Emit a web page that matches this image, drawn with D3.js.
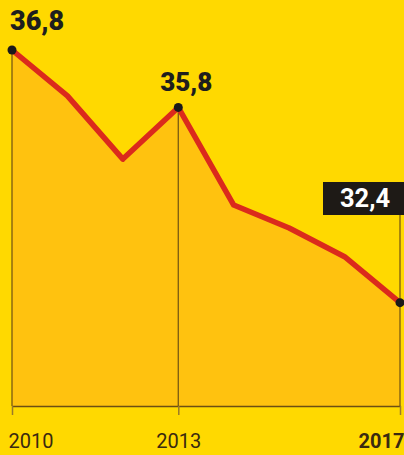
<!DOCTYPE html>
<html>
<head>
<meta charset="utf-8">
<script src="https://cdn.jsdelivr.net/npm/d3@7/dist/d3.min.js"></script>
<style>
  html, body { margin: 0; padding: 0; background: #FFD900; }
  svg { display: block; }
</style>
</head>
<body>
<svg id="chart" width="404" height="455"></svg>
<script>
const years = [2010, 2011, 2012, 2013, 2014, 2015, 2016, 2017];
const values = [36.8, 36.0, 34.9, 35.8, 34.1, 33.7, 33.2, 32.4];
const tickYears = [2010, 2013, 2017];
const labelled = [
  { year: 2010, value: 36.8, text: "36,8" },
  { year: 2013, value: 35.8, text: "35,8" },
  { year: 2017, value: 32.4, text: "32,4" }
];

const data = years.map((y, i) => ({ year: y, value: values[i] }));

const W = 404, H = 455;
const svg = d3.select("#chart");
svg.append("rect").attr("width", W).attr("height", H).attr("fill", "#FFD900");

const x = d3.scaleLinear().domain([2010, 2017]).range([12, 400]);
const y = d3.scaleLinear().domain([30.6, 36.8]).range([406, 50]);
const baseY = y(30.6);

// area
const area = d3.area().x(d => x(d.year)).y0(baseY).y1(d => y(d.value));
svg.append("path").datum(data).attr("d", area).attr("fill", "#FFC20F");

// vertical guide lines
const lineColor = "#7A5A12";
svg.append("line").attr("x1", x(2010)).attr("x2", x(2010))
  .attr("y1", y(36.8)).attr("y2", baseY).attr("stroke", lineColor).attr("stroke-width", 1.3);
svg.append("line").attr("x1", x(2013)).attr("x2", x(2013))
  .attr("y1", y(35.8)).attr("y2", baseY).attr("stroke", lineColor).attr("stroke-width", 1.3);
svg.append("line").attr("x1", x(2017)).attr("x2", x(2017))
  .attr("y1", 214).attr("y2", baseY).attr("stroke", lineColor).attr("stroke-width", 1.3);

// axis
const axis = d3.axisBottom(x).tickValues(tickYears).tickSize(9).tickSizeOuter(0).tickFormat(d3.format("d")).tickPadding(19);
const gAxis = svg.append("g").attr("transform", `translate(0,${baseY})`).call(axis);
gAxis.select(".domain").attr("stroke", "#6B4E14").attr("stroke-width", 1.5);
gAxis.selectAll(".tick line").attr("stroke", "#9A7A2A").attr("stroke-width", 1.5);
gAxis.selectAll(".tick text")
  .attr("font-family", "Roboto, sans-serif")
  .attr("font-size", 20)
  .attr("fill", "#3A2A10")
  .attr("text-anchor", d => d === 2010 ? "start" : d === 2017 ? "end" : "middle")
  .attr("dx", d => d === 2010 ? -4 : d === 2017 ? 4 : 0)
  .attr("font-weight", d => d === 2017 ? 700 : 400);

// red line
const line = d3.line().x(d => x(d.year)).y(d => y(d.value));
svg.append("path").datum(data).attr("d", line)
  .attr("fill", "none").attr("stroke", "#DB2A1C").attr("stroke-width", 5.5)
  .attr("stroke-linejoin", "round").attr("stroke-linecap", "round");

// dots
svg.selectAll("circle.dot").data(labelled).enter().append("circle")
  .attr("class", "dot")
  .attr("cx", d => x(d.year)).attr("cy", d => y(d.value)).attr("r", 4.5)
  .attr("fill", "#1A1A1A");

// labels
svg.append("text").attr("x", 10).attr("y", y(36.8) - 20)
  .attr("font-family", "Roboto, sans-serif").attr("font-weight", 900).attr("font-size", 27)
  .attr("fill", "#1E1E1E").text(labelled[0].text);
svg.append("text").attr("x", x(2013) + 8).attr("y", y(35.8) - 16)
  .attr("text-anchor", "middle")
  .attr("font-family", "Roboto, sans-serif").attr("font-weight", 900).attr("font-size", 26)
  .attr("fill", "#1E1E1E").text(labelled[1].text);

svg.append("rect").attr("x", 323).attr("y", 182).attr("width", 85).attr("height", 33).attr("fill", "#1E1A16");
svg.append("text").attr("x", 365).attr("y", 207)
  .attr("text-anchor", "middle")
  .attr("font-family", "Roboto, sans-serif").attr("font-weight", 700).attr("font-size", 25.5)
  .attr("fill", "#FFFFFF").text(labelled[2].text);
</script>
</body>
</html>
